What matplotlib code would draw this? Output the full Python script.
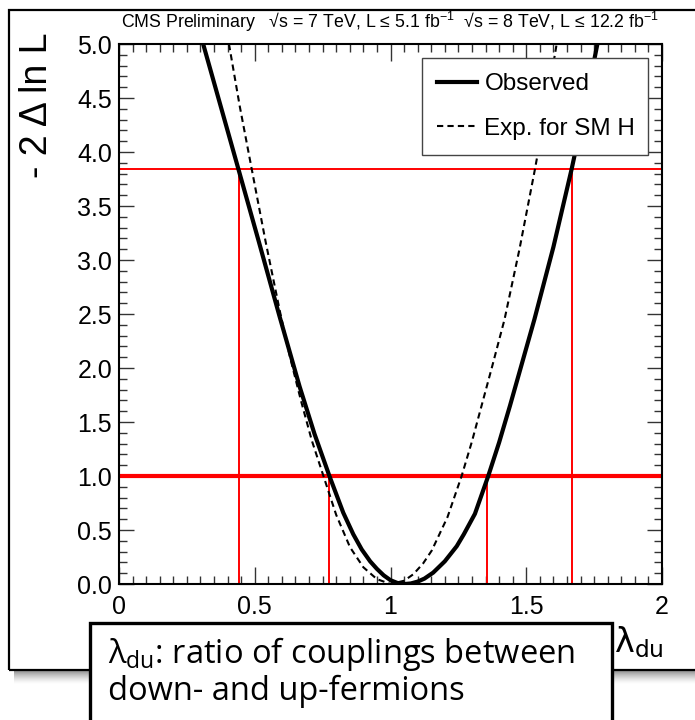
import matplotlib
matplotlib.use('Agg')
import matplotlib.pyplot as plt
from matplotlib.patches import Rectangle
from matplotlib.ticker import MultipleLocator, FormatStrFormatter

# -2 Delta lnL scans
obs_x = [0.31, 0.375, 0.44, 0.515, 0.59, 0.665, 0.72, 0.775, 0.826, 0.863,
         0.894, 0.925, 0.95, 0.975, 1.0, 1.025, 1.053, 1.075, 1.10, 1.125,
         1.157, 1.2, 1.244, 1.27, 1.311, 1.36, 1.40, 1.44, 1.53, 1.60, 1.667,
         1.715, 1.762]
obs_y = [5.0, 4.42, 3.84, 3.17, 2.49, 1.83, 1.39, 1.0, 0.66, 0.46,
         0.32, 0.21, 0.14, 0.08, 0.035, 0.01, 0.0, 0.005, 0.022, 0.05,
         0.105, 0.21, 0.35, 0.46, 0.65, 1.0, 1.31, 1.65, 2.45, 3.12, 3.84,
         4.4, 5.0]
exp_x = [0.405, 0.445, 0.489, 0.54, 0.593, 0.63, 0.67, 0.71, 0.753, 0.80,
         0.851, 0.90, 0.95, 1.0, 1.05, 1.084, 1.12, 1.152, 1.21, 1.262,
         1.30, 1.33, 1.375, 1.42, 1.475, 1.532, 1.572, 1.612]
exp_y = [5.0, 4.42, 3.84, 3.17, 2.52, 2.1, 1.70, 1.33, 1.0, 0.64,
         0.34, 0.155, 0.045, 0.0, 0.03, 0.09, 0.19, 0.31, 0.62, 1.0,
         1.32, 1.6, 2.02, 2.45, 3.1, 3.84, 4.4, 5.0]

cl_levels = [1.0, 3.84]
cl68_x = [0.775, 1.357]
cl95_x = [0.443, 1.668]

xticks = [0, 0.5, 1, 1.5, 2]
xticklabels = ['0', '0.5', '1', '1.5', '2']

plt.rcParams['font.family'] = ['Liberation Sans', 'DejaVu Sans']
plt.rcParams['mathtext.fontset'] = 'custom'
plt.rcParams['mathtext.rm'] = 'Open Sans'
plt.rcParams['mathtext.it'] = 'Open Sans:italic'
plt.rcParams['mathtext.bf'] = 'Open Sans:bold'

W, H = 695, 720
fig = plt.figure(figsize=(W / 100, H / 100), dpi=100)

# slide frame with a soft shadow below it
for i in range(14):
    fig.add_artist(Rectangle((14 / W, 1 - (671 + i) / H), 1.0, 1 / H,
                             transform=fig.transFigure, fc='black', ec='none',
                             alpha=0.45 * (1 - i / 14) ** 1.5, zorder=0))
fig.add_artist(Rectangle((9 / W, 1 - 670 / H), 700 / W, 660 / H,
                         transform=fig.transFigure, fill=False, ec='black',
                         lw=1.6, zorder=1))

ax = fig.add_axes([119 / W, 1 - 584 / H, 543 / W, 540 / H])
ax.set_xlim(0, 2)
ax.set_ylim(0, 5)

# red confidence-level lines
ax.axhline(cl_levels[0], color='red', lw=3, zorder=2)
ax.axhline(cl_levels[1], color='red', lw=1.4, zorder=2)
for x in cl68_x:
    ax.plot([x, x], [0, cl_levels[0]], color='red', lw=1.4, zorder=2)
for x in cl95_x:
    ax.plot([x, x], [0, cl_levels[1]], color='red', lw=1.4, zorder=2)

ax.plot(obs_x, obs_y, color='black', lw=3, label='Observed', zorder=4,
        solid_joinstyle='round')
ax.plot(exp_x, exp_y, color='black', lw=1.5, ls=(0, (3, 2)),
        label='Exp. for SM H', zorder=3)

leg = ax.legend(loc='upper left', bbox_to_anchor=(0.558, 0.974, 0.416, 0.0),
                mode='expand', fontsize=17.5, handlelength=1.65, handletextpad=0.3,
                labelspacing=0.93, borderpad=0.62, borderaxespad=0,
                fancybox=False, framealpha=1)
leg.get_frame().set_edgecolor('#444444')
leg.get_frame().set_linewidth(1.0)

ax.set_xticks(xticks)
ax.set_xticklabels(xticklabels)
ax.xaxis.set_minor_locator(MultipleLocator(0.05))
ax.yaxis.set_major_locator(MultipleLocator(0.5))
ax.yaxis.set_minor_locator(MultipleLocator(0.1))
ax.yaxis.set_major_formatter(FormatStrFormatter('%.1f'))
ax.tick_params(which='both', direction='in', top=True, right=True,
               labelsize=18, width=1.0, color='#333333')
ax.tick_params(axis='x', which='major', length=12, pad=8)
ax.tick_params(axis='x', which='minor', length=6)
ax.tick_params(axis='y', which='major', length=11, pad=5)
ax.tick_params(axis='y', which='minor', length=5.5)
for s in ax.spines.values():
    s.set_linewidth(1.5)

fig.text(37 / W, 1 - 33 / H, '- 2 Δ ln L', rotation=90, ha='center', va='top',
         fontsize=27)
fig.text(121 / W, 1 - 28 / H,
         r'CMS Preliminary   √s = 7 TeV, L ≤ 5.1 fb$\mathregular{^{-1}}$'
         r'  √s = 8 TeV, L ≤ 12.2 fb$\mathregular{^{-1}}$',
         fontsize=12.8, va='baseline')
fig.text(664 / W, 1 - 652 / H, r'$\mathrm{λ}_{\mathrm{du}}$', fontsize=24,
         math_fontfamily='dejavusans', ha='right', va='baseline')

# annotation box
fig.add_artist(Rectangle((90 / W, -0.05), 522 / W, 1 - 623 / H + 0.05,
                         transform=fig.transFigure, fc='white', ec='black',
                         lw=2.4, zorder=5))
fig.text(108 / W, 1 - 663 / H, r'$\mathrm{λ}_{\mathrm{du}}$: ratio of couplings between',
         fontsize=23.5, family='Open Sans', va='baseline', zorder=6)
fig.text(108 / W, 1 - 700 / H, 'down- and up-fermions',
         fontsize=23.5, family='Open Sans', va='baseline', zorder=6)

fig.savefig('out.png', dpi=100)
